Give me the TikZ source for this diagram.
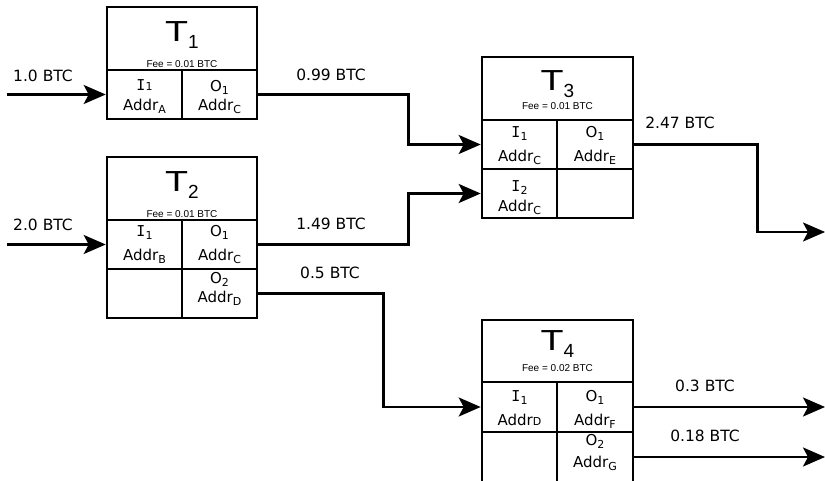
\documentclass[tikz,border=0pt]{standalone}
\usepackage{fontspec}
\setmainfont{DejaVu Sans}
\newfontfamily\arialf{Liberation Sans}
\newfontfamily\monoI{DejaVu Sans Mono}
\usetikzlibrary{arrows.meta}
\newcommand{\mysub}[1]{\raisebox{-3pt}{\fontsize{11}{11}\selectfont #1}}
\newcommand{\mysmall}[1]{{\fontsize{11}{11}\selectfont #1}}
\newcommand{\tI}{{\monoI I}}
\newcommand{\thead}[1]{{\arialf\fontsize{29}{29}\selectfont \scalebox{1.3}[1]{T}\raisebox{-7pt}{\fontsize{19}{19}\selectfont #1}}}
\begin{document}
\begin{tikzpicture}[x=1pt,y=-1pt,
  cell/.style={draw, line width=2.6pt, minimum width=75pt, minimum height=49pt, inner sep=0pt},
  celltxt/.style={inner sep=0pt, align=center, font=\fontsize{15}{#1}\selectfont},
  celltxt/.default=24,
  hdr/.style={draw, line width=2.6pt, minimum width=150pt, minimum height=63pt, inner sep=0pt},
  tlab/.style={anchor=base, inner sep=0pt},
  fee/.style={inner sep=0pt, font=\arialf\fontsize{10}{10}\selectfont},
  flow/.style={line width=2.5pt, -{Stealth[length=22pt,width=19pt,inset=5pt]}},
  lbl/.style={inner sep=0pt, font=\fontsize{15.5}{15.5}\selectfont}]
\useasboundingbox (0,0) rectangle (825,481);
\clip (0,0) rectangle (825,481);

% ---- T1
\node[hdr] (t1h) at (182,38.5) {};
\node[tlab] (t1T) at (182,42) {\thead{1}};
\node[fee] (t1fee) at (182,64) {Fee = 0.01 BTC};
\node[cell] (t1i1) at (144.5,94.5) {};
\node[cell] (t1o1) at (219.5,94.5) {};
\node[celltxt=20] (t1i1t) at (144.5,96.5) {\tI\mysmall{1}\\Addr\mysub{A}};
\node[celltxt=19] (t1o1t) at (219.5,97.5) {O\mysub{1}\\Addr\mysub{C}};

% ---- T2
\node[hdr] (t2h) at (182,188.5) {};
\node[tlab] (t2T) at (182,192) {\thead{2}};
\node[fee] (t2fee) at (182,214) {Fee = 0.01 BTC};
\node[cell] (t2i1) at (144.5,244.5) {};
\node[cell] (t2o1) at (219.5,244.5) {};
\node[cell] (t2e) at (144.5,293.5) {};
\node[cell] (t2o2) at (219.5,293.5) {};
\node[celltxt] (t2i1t) at (144.5,244.5) {\tI\mysub{1}\\Addr\mysub{B}};
\node[celltxt] (t2o1t) at (219.5,244.5) {O\mysub{1}\\Addr\mysub{C}};
\node[celltxt=19] (t2o2t) at (219.5,289) {O\mysub{2}\\Addr\mysub{D}};

% ---- T3
\node[hdr, minimum width=151pt] (t3h) at (557.5,88.5) {};
\node[tlab] (t3T) at (557.5,91) {\thead{3}};
\node[fee] (t3fee) at (557.5,106.5) {Fee = 0.01 BTC};
\node[cell] (t3i1) at (519.5,144.5) {};
\node[cell, minimum width=76pt] (t3o1) at (595,144.5) {};
\node[cell] (t3i2) at (519.5,193.5) {};
\node[cell, minimum width=76pt] (t3e) at (595,193.5) {};
\node[celltxt=24.5] (t3i1t) at (519.5,145.5) {\tI\mysub{1}\\Addr\mysub{C}};
\node[celltxt=24.5] (t3o1t) at (595,145.5) {O\mysub{1}\\Addr\mysub{E}};
\node[celltxt=20] (t3i2t) at (519.5,197.5) {\tI\mysub{2}\\Addr\mysub{C}};

% ---- T4
\node[hdr, minimum width=151pt, minimum height=62pt] (t4h) at (557.5,351) {};
\node[tlab] (t4T) at (557.5,350) {\thead{4}};
\node[fee] (t4fee) at (557.5,368) {Fee = 0.02 BTC};
\node[cell, minimum height=50pt] (t4i1) at (519.5,407) {};
\node[cell, minimum width=76pt, minimum height=50pt] (t4o1) at (595,407) {};
\node[cell, minimum height=60pt] (t4e) at (519.5,462) {};
\node[cell, minimum width=76pt, minimum height=60pt] (t4o2) at (595,462) {};
\node[celltxt] (t4i1t) at (519.5,408) {\tI\mysub{1}\\Addr\mysmall{D}};
\node[celltxt] (t4o1t) at (595,409.5) {O\mysub{1}\\Addr\mysub{F}};
\node[celltxt=22] (t4o2t) at (595,452.5) {O\mysub{2}\\Addr\mysub{G}};

% ---- free ends
\coordinate (in1) at (7,94.5);
\coordinate (in2) at (7,244.5);
\coordinate (out3) at (825,232);
\coordinate (out4a) at (825,407);
\coordinate (out4b) at (825,457);

% ---- connectors
\draw[flow] (in1) -- (t1i1.west);
\draw[flow] (in2) -- (t2i1.west);
\draw[flow] (t1o1.east) -- ++(150,0) |- (t3i1.west);
\draw[flow] (t2o1.east) -- ++(150,0) |- (t3i2.west);
\draw[flow] (t2o2.east) -- ++(125,0) |- (t4i1.west);
\draw[flow] (t3o1.east) -- ++(123,0) |- (out3);
\draw[flow] (t4o1.east) -- (out4a);
\draw[flow] ([yshift=5pt]t4o2.east) -- (out4b);

% ---- labels
\node[lbl] (l1) at (43,76) {1.0 BTC};
\node[lbl] (l2) at (43,225) {2.0 BTC};
\node[lbl] (l3) at (331,75) {0.99 BTC};
\node[lbl] (l4) at (331,224) {1.49 BTC};
\node[lbl] (l5) at (330,273) {0.5 BTC};
\node[lbl] (l6) at (680,123) {2.47 BTC};
\node[lbl] (l7) at (705,386) {0.3 BTC};
\node[lbl] (l8) at (705,436) {0.18 BTC};
\end{tikzpicture}
\end{document}
